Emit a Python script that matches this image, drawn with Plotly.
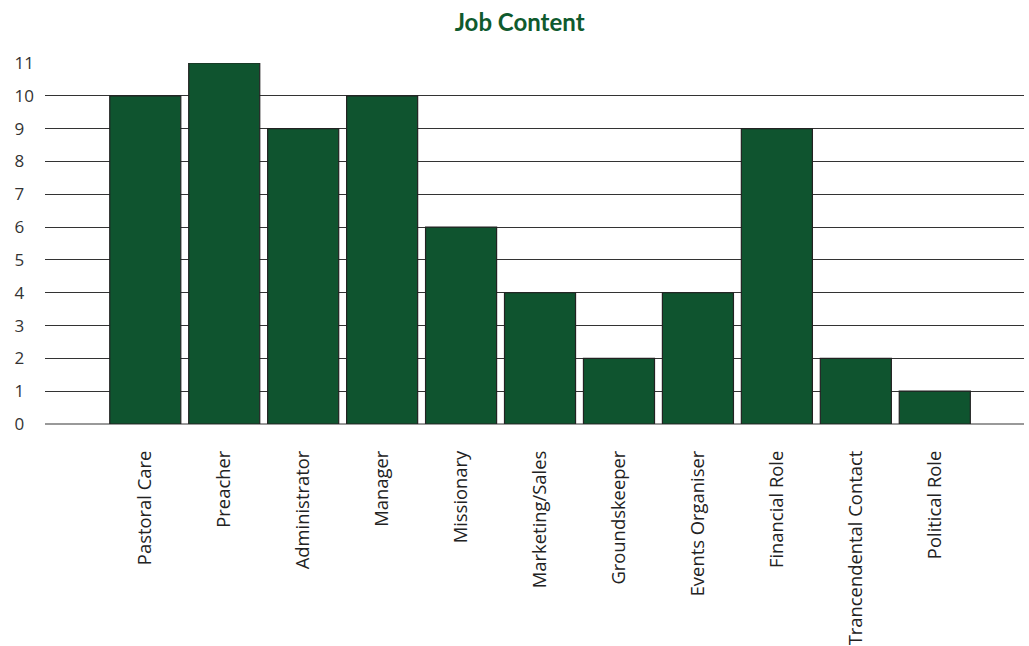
import plotly.graph_objects as go

categories = ["Pastoral Care", "Preacher", "Administrator", "Manager", "Missionary",
              "Marketing/Sales", "Groundskeeper", "Events Organiser", "Financial Role",
              "Trancendental Contact", "Political Role"]
counts = [10, 11, 9, 10, 6, 4, 2, 4, 9, 2, 1]
y_ticks = list(range(0, 12))
y_tick_text = [str(v) if v >= 10 else str(v) + "\u2007" for v in y_ticks]

fig = go.Figure(go.Bar(
    x=categories, y=counts, width=0.9,
    marker=dict(color="#0f542f", line=dict(color="#222222", width=1.2)),
))

fig.update_layout(
    width=1029, height=646,
    margin=dict(l=45, r=5, t=63, b=222),
    paper_bgcolor="white", plot_bgcolor="white",
    title=dict(text="<b>Job Content</b>", x=0.505, xanchor="center", y=0.965, yanchor="middle",
               font=dict(family="Lato, Noto Sans", size=24, color="#0f5a2e")),
    showlegend=False,
    font=dict(family="Open Sans, Noto Sans", size=16, color="#333333"),
)
fig.update_xaxes(range=[-1.27, 11.13], tickangle=-90, showgrid=False, showline=False,
                 automargin=False,
                 ticks="", ticklabelstandoff=22, tickfont=dict(size=18.4, color="#222222"))
fig.update_yaxes(range=[0, 11], tickvals=y_ticks, ticktext=y_tick_text,
                 showgrid=True, gridcolor="#333333", gridwidth=1,
                 zeroline=True, zerolinecolor="#999999", zerolinewidth=2,
                 automargin=False,
                 ticks="", ticklabelstandoff=10, tickfont=dict(size=17, color="#333333"))

fig.write_html("out.html")
